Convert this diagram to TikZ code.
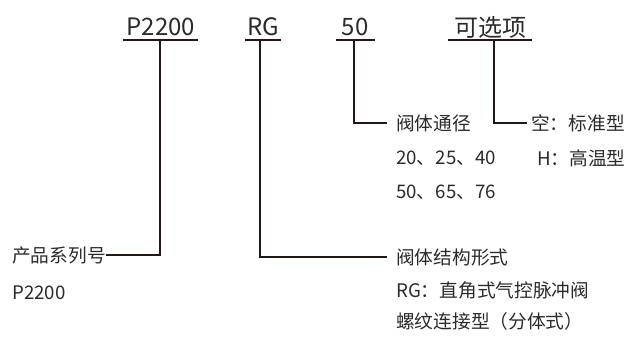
\documentclass[tikz,border=0pt]{standalone}
\usepackage{fontspec}
\setmainfont{Noto Sans CJK SC}
\definecolor{ink}{HTML}{231815}
\definecolor{txt}{HTML}{2B2B2B}
\begin{document}
\begin{tikzpicture}[x=1pt,y=-1pt,
  toplbl/.style={font=\fontsize{24}{26}\selectfont, text=txt, inner sep=0pt},
  lbl/.style={font=\fontsize{18.7}{21}\selectfont, text=txt, inner sep=0pt, anchor=west},
  conn/.style={draw=ink, line width=1.9pt},
]
\useasboundingbox (0,0) rectangle (627,340);
% top labels
\node[toplbl] (p) at (161,27) {P2200};
\node[toplbl] (rg) at (263,27) {RG};
\node[toplbl] (fifty) at (355,27) {50};
\node[toplbl] (opt) at (490,27) {可选项};
% underline coordinates
\coordinate (pL) at (123,40); \coordinate (pR) at (198,40); \coordinate (pS) at (160,40);
\coordinate (rL) at (245,40); \coordinate (rR) at (281,40); \coordinate (rS) at (260,40);
\coordinate (fL) at (336,40); \coordinate (fR) at (375,40); \coordinate (fS) at (354,40);
\coordinate (oL) at (448,40); \coordinate (oR) at (532,40); \coordinate (oS) at (494,40);
\draw[conn] (pL) -- (pR);
\draw[conn] (rL) -- (rR);
\draw[conn] (fL) -- (fR);
\draw[conn] (oL) -- (oR);
% bottom labels
\node[lbl] (series) at (12,255) {产品系列号};
\node[lbl] (seriesv) at (12,293) {P2200};
\node[lbl] (struct) at (396,257) {阀体结构形式};
\node[lbl] (structa) at (396,290) {RG：直角式气控脉冲阀};
\node[lbl] (structb) at (396,321) {螺纹连接型（分体式）};
\node[lbl] (dn) at (396,123) {阀体通径};
\node[lbl] (dna) at (396,158) {20、25、40};
\node[lbl] (dnb) at (396,192) {50、65、76};
\node[lbl] (optA) at (531,123) {空：标准型};
\node[lbl] (optB) at (537,158) {H：高温型};
% connectors
\draw[conn] (pS) |- (series.east);
\draw[conn] (rS) |- ([xshift=-9pt]struct.west);
\draw[conn] (fS) |- ([xshift=-9pt]dn.west);
\draw[conn] (oS) |- ([xshift=-4pt]optA.west);
\end{tikzpicture}
\end{document}
